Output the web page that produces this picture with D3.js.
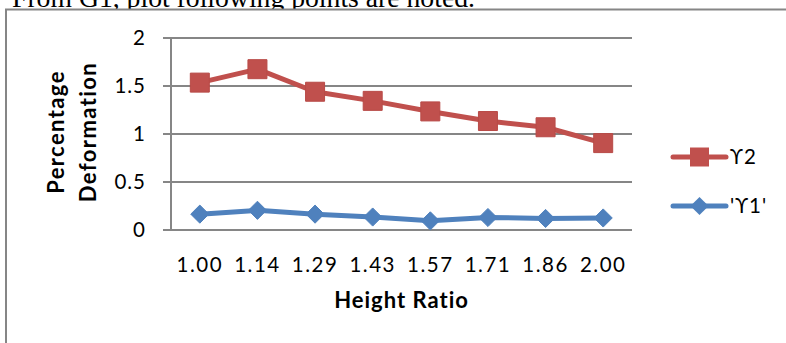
<!DOCTYPE html>
<html>
<head>
<meta charset="utf-8">
<script src="https://cdn.jsdelivr.net/npm/d3@7"></script>
<style>
  html, body { margin: 0; padding: 0; background: #fff; overflow: hidden; }
  svg { display: block; }
</style>
</head>
<body>
<svg id="chart" width="786" height="343"></svg>
<script>
// Height ratios on the category axis
const heightRatios = ["1.00", "1.14", "1.29", "1.43", "1.57", "1.71", "1.86", "2.00"];
// Percentage deformation, series ϒ2
const upsilon2 = [1.53, 1.67, 1.435, 1.34, 1.23, 1.13, 1.065, 0.90];
// Percentage deformation, series 'ϒ1'
const upsilon1 = [0.16, 0.20, 0.16, 0.13, 0.09, 0.125, 0.115, 0.12];
const yTicks = [0, 0.5, 1, 1.5, 2];
const seriesNames = ["ϒ2", "'ϒ1'"];

const svg = d3.select("#chart");
const labelFont = "Lato, 'Open Sans', sans-serif";
const gridColor = "#868686";
const red = "#C0504D", blue = "#4F81BD";

// Caption line running above the chart
svg.append("text")
  .attr("x", 12).attr("y", 7)
  .attr("font-family", "'Liberation Serif', 'Times New Roman', serif")
  .attr("font-size", 27.7)
  .attr("fill", "#000")
  .text("From G1, plot following points are noted.");

// Chart frame
svg.append("rect")
  .attr("x", 6).attr("y", 9.5)
  .attr("width", 900).attr("height", 500)
  .attr("fill", "#fff")
  .attr("stroke", gridColor)
  .attr("stroke-width", 2);

const plot = { left: 171, right: 632, top: 37.5, bottom: 229.5 };

const x = d3.scaleBand()
  .domain(heightRatios)
  .range([plot.left, plot.right]);

const y = d3.scaleLinear()
  .domain([0, 2])
  .range([plot.bottom, plot.top]);

// Horizontal gridlines with outward ticks and value labels
const yAxis = d3.axisLeft(y)
  .tickValues(yTicks)
  .tickSize(-(plot.right - plot.left))
  .tickPadding(0)
  .tickFormat(d3.format("~g"));

const gy = svg.append("g")
  .attr("transform", `translate(${plot.left},0)`)
  .call(yAxis);
gy.select(".domain").remove();
gy.selectAll(".tick line")
  .attr("x1", -8)
  .attr("stroke", gridColor)
  .attr("stroke-width", 2);
gy.selectAll(".tick text")
  .attr("x", -25)
  .attr("dy", "0.36em")
  .attr("font-family", labelFont)
  .attr("font-size", 20.5)
  .attr("letter-spacing", 1)
  .attr("fill", "#000");

// Vertical axis line
svg.append("line")
  .attr("x1", plot.left).attr("x2", plot.left)
  .attr("y1", plot.top).attr("y2", plot.bottom)
  .attr("stroke", gridColor)
  .attr("stroke-width", 2);

// Category labels
const xAxis = d3.axisBottom(x).tickSize(0).tickPadding(0);
const gx = svg.append("g")
  .attr("transform", `translate(0,${plot.bottom})`)
  .call(xAxis);
gx.select(".domain").remove();
gx.selectAll(".tick text")
  .attr("y", 42)
  .attr("dy", 0)
  .attr("font-family", labelFont)
  .attr("font-size", 20.5)
  .attr("letter-spacing", 1.5)
  .attr("fill", "#000");

// Axis titles
svg.append("text")
  .attr("x", (plot.left + plot.right) / 2)
  .attr("y", 308)
  .attr("text-anchor", "middle")
  .attr("font-family", labelFont)
  .attr("font-weight", "bold")
  .attr("font-size", 22)
  .attr("letter-spacing", 1)
  .text("Height Ratio");

const yTitle = svg.append("text")
  .attr("transform", "translate(64,132) rotate(-90)")
  .attr("text-anchor", "middle")
  .attr("font-family", labelFont)
  .attr("font-weight", "bold")
  .attr("font-size", 22)
  .attr("letter-spacing", 1.4);
yTitle.append("tspan").attr("x", 0).attr("y", 0).text("Percentage");
yTitle.append("tspan").attr("x", 0).attr("y", 32).text("Deformation");

const cx = d => x(d) + x.bandwidth() / 2;
const line = d3.line()
  .x((d, i) => cx(heightRatios[i]))
  .y(d => y(d));

const squareSym = d3.symbol().type(d3.symbolSquare).size(361);
const diamondSym = d3.symbol().type(d3.symbolDiamond2).size(210);

// Series ϒ1 (blue diamonds)
svg.append("path")
  .datum(upsilon1)
  .attr("d", line)
  .attr("fill", "none")
  .attr("stroke", blue)
  .attr("stroke-width", 5)
  .attr("stroke-linejoin", "round");
svg.selectAll(".m1")
  .data(upsilon1)
  .join("path")
  .attr("class", "m1")
  .attr("transform", (d, i) => `translate(${cx(heightRatios[i])},${y(d)})`)
  .attr("d", diamondSym)
  .attr("fill", blue)
  .attr("stroke", blue)
  .attr("stroke-width", 1);

// Series ϒ2 (red squares)
svg.append("path")
  .datum(upsilon2)
  .attr("d", line)
  .attr("fill", "none")
  .attr("stroke", red)
  .attr("stroke-width", 5)
  .attr("stroke-linejoin", "round");
svg.selectAll(".m2")
  .data(upsilon2)
  .join("path")
  .attr("class", "m2")
  .attr("transform", (d, i) => `translate(${cx(heightRatios[i])},${y(d)})`)
  .attr("d", squareSym)
  .attr("fill", red)
  .attr("stroke", "#B84A47")
  .attr("stroke-width", 1);

// Legend
const legend = [
  { name: seriesNames[0], color: red, sym: squareSym, cy: 157 },
  { name: seriesNames[1], color: blue, sym: diamondSym, cy: 206 }
];
const lg = svg.selectAll(".legend")
  .data(legend)
  .join("g")
  .attr("class", "legend")
  .attr("transform", d => `translate(0,${d.cy})`);
lg.append("line")
  .attr("x1", 673).attr("x2", 726)
  .attr("stroke", d => d.color)
  .attr("stroke-width", 5)
  .attr("stroke-linecap", "round");
lg.append("path")
  .attr("transform", "translate(699.5,0)")
  .attr("d", d => d.sym())
  .attr("fill", d => d.color);
lg.append("text")
  .attr("x", 730)
  .attr("dy", "0.36em")
  .attr("font-family", labelFont)
  .attr("font-size", 20.5)
  .attr("letter-spacing", 1)
  .text(d => d.name);
</script>
</body>
</html>
